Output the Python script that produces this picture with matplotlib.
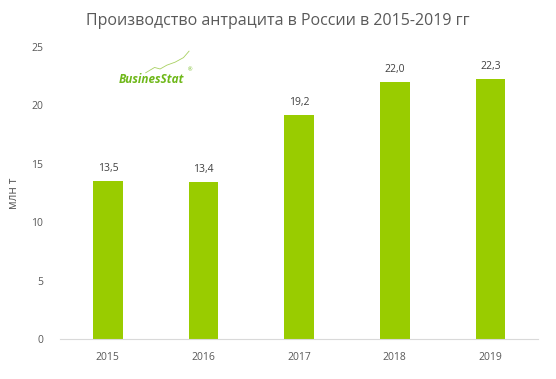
import matplotlib.pyplot as plt
import numpy as np

years = ['2015', '2016', '2017', '2018', '2019']
values = [13.5, 13.4, 19.2, 22.0, 22.3]
labels = ['13,5', '13,4', '19,2', '22,0', '22,3']

plt.rcParams['font.family'] = ['Open Sans', 'DejaVu Sans']

fig = plt.figure(figsize=(5.56, 3.79), dpi=100)
ax = fig.add_axes([0.108, 0.1055, 0.86, 0.7705])

x = np.arange(len(years))
ax.bar(x, values, width=0.31, color='#99cc00', zorder=2)
for xi, v, s in zip(x, values, labels):
    ax.text(xi, v + 0.6, s, ha='center', va='bottom', fontsize=7.5, color='#404040')

ax.set_xlim(-0.5, 4.5)
ax.set_ylim(0, 25)
ax.set_yticks([0, 5, 10, 15, 20, 25])
ax.set_xticks(x)
ax.set_xticklabels(years)
ax.tick_params(axis='both', length=0, labelsize=7.5, colors='#595959')
ax.tick_params(axis='x', pad=9)
ax.tick_params(axis='y', pad=12)
for side in ['top', 'right', 'left']:
    ax.spines[side].set_visible(False)
ax.spines['bottom'].set_color('#d9d9d9')
ax.set_ylabel('млн т', fontsize=8.5, color='#595959', labelpad=8)

fig.text(0.5, 0.945, 'Производство антрацита в России в 2015-2019 гг',
         ha='center', va='center', fontsize=11.5, color='#595959')

# logo
fig.text(0.213, 0.79, 'BusinesStat', ha='left', va='center', fontsize=8.5,
         fontweight='bold', style='italic', color='#6fb81a')
fig.text(0.338, 0.812, '®', fontsize=4, color='#6fb81a')
lx = [0.262, 0.278, 0.288, 0.300, 0.315, 0.330, 0.340]
ly = [0.808, 0.822, 0.818, 0.828, 0.836, 0.848, 0.865]
fig.add_artist(plt.Line2D(lx, ly, color='#a8d060', lw=0.6, transform=fig.transFigure))

fig.savefig('out.png', dpi=100)
